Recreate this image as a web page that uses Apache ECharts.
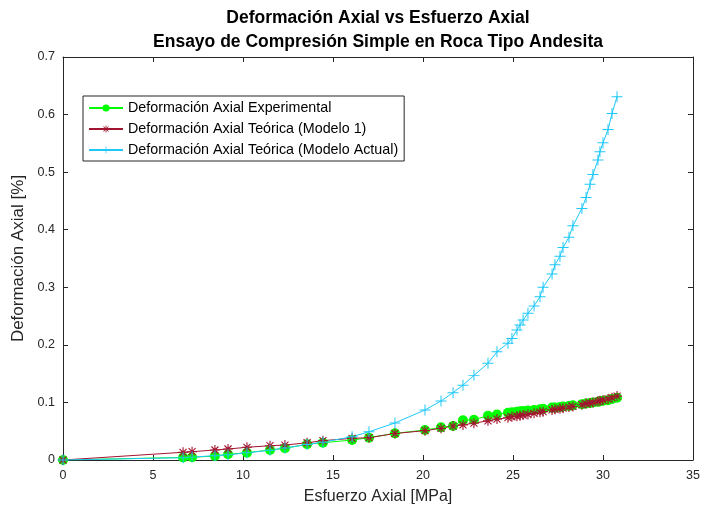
<!DOCTYPE html>
<html>
<head>
<meta charset="utf-8">
<script src="https://cdn.jsdelivr.net/npm/echarts@6/dist/echarts.min.js"></script>
<style>
  html, body { margin: 0; padding: 0; background: #fff; }
  #chart { width: 704px; height: 517px; }
</style>
</head>
<body>
<div id="chart"></div>
<script>
// Esfuerzo axial aplicado [MPa]
const esfuerzo = [0, 6.67, 7.17, 8.44, 9.17, 10.22, 11.5, 12.33, 13.56, 14.44, 16.06, 17.0, 18.44,
  20.11, 21.0, 21.67, 22.22, 22.83, 23.61, 24.11, 24.72, 24.94, 25.22, 25.39, 25.56, 25.83,
  26.17, 26.5, 26.67, 27.17, 27.33, 27.61, 27.78, 28.11, 28.33, 28.83, 29.06, 29.28, 29.44,
  29.72, 29.83, 30.0, 30.28, 30.5, 30.78];

// Deformación axial medida [%]
const defExperimental = [0, 0.0045, 0.0047, 0.0069, 0.0099, 0.0127, 0.0174, 0.0203, 0.0273, 0.030,
  0.0347, 0.0388, 0.0463, 0.052, 0.0567, 0.059, 0.069, 0.070, 0.077, 0.079, 0.082, 0.083,
  0.084, 0.0845, 0.085, 0.086, 0.087, 0.088, 0.089, 0.091, 0.091, 0.092, 0.093, 0.094, 0.095,
  0.097, 0.098, 0.099, 0.100, 0.101, 0.102, 0.103, 0.104, 0.106, 0.108];

// Deformación axial teórica, modelo 1 [%]
const defModelo1 = [0, 0.0134, 0.0144, 0.0174, 0.0191, 0.0221, 0.0248, 0.026, 0.030, 0.0336,
  0.0376, 0.0388, 0.046, 0.051, 0.055, 0.059, 0.061, 0.064, 0.068, 0.071, 0.0735, 0.075, 0.076,
  0.077, 0.078, 0.079, 0.081, 0.083, 0.084, 0.087, 0.088, 0.089, 0.090, 0.092, 0.093, 0.096,
  0.098, 0.099, 0.100, 0.102, 0.103, 0.104, 0.106, 0.108, 0.111];

// Deformación axial teórica, modelo actual [%]
const defModeloActual = [0, 0.004, 0.005, 0.0075, 0.009, 0.0125, 0.017, 0.021, 0.027, 0.031,
  0.0405, 0.049, 0.0643, 0.0869, 0.1025, 0.117, 0.130, 0.147, 0.168, 0.188, 0.203, 0.211, 0.226,
  0.2345, 0.243, 0.255, 0.2675, 0.2837, 0.300, 0.323, 0.339, 0.354, 0.369, 0.387, 0.407, 0.437,
  0.456, 0.479, 0.496, 0.521, 0.5355, 0.551, 0.574, 0.602, 0.631];

const nombres = ['Deformación Axial Experimental', 'Deformación Axial Teórica (Modelo 1)',
  'Deformación Axial Teórica (Modelo Actual)'];
const titulo = ['Deformación Axial vs Esfuerzo Axial', 'Ensayo de Compresión Simple en Roca Tipo Andesita'];
const ejeX = 'Esfuerzo Axial [MPa]';
const ejeY = 'Deformación Axial [%]';

const pares = ys => esfuerzo.map((x, i) => [x, ys[i]]);

const FONT = '"Liberation Sans", Arial, sans-serif';
const AXIS = '#262626';

// Marker shapes: thin plus and six-armed asterisk
const plusPath = 'path://M0,4.55 H10 V5.45 H0 Z M4.55,0 H5.45 V10 H4.55 Z';
const starPath = 'path://M0,4.45 H10 V5.55 H0 Z M4.45,0 H5.55 V10 H4.45 Z ' +
  'M1.1,1.9 L1.9,1.1 L8.9,8.1 L8.1,8.9 Z M8.1,1.1 L8.9,1.9 L1.9,8.9 L1.1,8.1 Z';

const chart = echarts.init(document.getElementById('chart'), null, { renderer: 'canvas' });

const axisCommon = () => ({
  axisLine: { show: true, onZero: false, lineStyle: { color: AXIS, width: 1 } },
  axisTick: { show: true, inside: true, length: 5, lineStyle: { color: AXIS } },
  splitLine: { show: false }
});

chart.setOption({
  animation: false,
  backgroundColor: '#fff',
  grid: { left: 63, right: 11, top: 57, bottom: 57 },
  graphic: [
    { type: 'text', x: 378, y: 9, style: { text: titulo[0], fontFamily: FONT, fontSize: 17.5,
      fontWeight: 'bold', fill: '#000', textAlign: 'center' } },
    { type: 'text', x: 378, y: 33, style: { text: titulo[1], fontFamily: FONT, fontSize: 17.5,
      fontWeight: 'bold', fill: '#000', textAlign: 'center' } }
  ],
  legend: {
    data: nombres,
    orient: 'vertical',
    left: 83, top: 96,
    padding: [5, 6, 4, 5],
    itemGap: 7,
    itemWidth: 34,
    itemHeight: 9,
    borderColor: AXIS, borderWidth: 1,
    backgroundColor: '#fff',
    textStyle: { fontFamily: FONT, fontSize: 14.3, color: '#000' }
  },
  xAxis: [
    Object.assign({
      type: 'value', min: 0, max: 35, interval: 5,
      name: ejeX, nameLocation: 'middle', nameGap: 29,
      nameTextStyle: { fontFamily: FONT, fontSize: 16, color: AXIS },
      axisLabel: { fontFamily: FONT, fontSize: 12.5, color: AXIS, margin: 9 }
    }, axisCommon()),
    Object.assign({
      type: 'value', min: 0, max: 35, interval: 5, position: 'top',
      axisLabel: { show: false }
    }, axisCommon())
  ],
  yAxis: [
    Object.assign({
      type: 'value', min: 0, max: 0.7, interval: 0.1,
      name: ejeY, nameLocation: 'middle', nameGap: 33,
      nameTextStyle: { fontFamily: FONT, fontSize: 17, color: AXIS },
      axisLabel: { fontFamily: FONT, fontSize: 12.5, color: AXIS, margin: 8,
        formatter: v => (Math.round(v * 10) / 10).toString() }
    }, axisCommon()),
    Object.assign({
      type: 'value', min: 0, max: 0.7, interval: 0.1, position: 'right',
      axisLabel: { show: false }
    }, axisCommon())
  ],
  series: [
    {
      name: nombres[0], type: 'line', data: pares(defExperimental),
      symbol: 'circle', symbolSize: 10,
      lineStyle: { color: '#00ff00', width: 1 },
      itemStyle: { color: '#00ff00' }
    },
    {
      name: nombres[1], type: 'line', data: pares(defModelo1),
      symbol: starPath, symbolSize: 10,
      lineStyle: { color: '#a2142f', width: 1 },
      itemStyle: { color: '#a2142f' }
    },
    {
      name: nombres[2], type: 'line', data: pares(defModeloActual),
      symbol: plusPath, symbolSize: 11,
      lineStyle: { color: '#1ec8f8', width: 1 },
      itemStyle: { color: '#1ec8f8' }
    }
  ]
});
</script>
</body>
</html>
